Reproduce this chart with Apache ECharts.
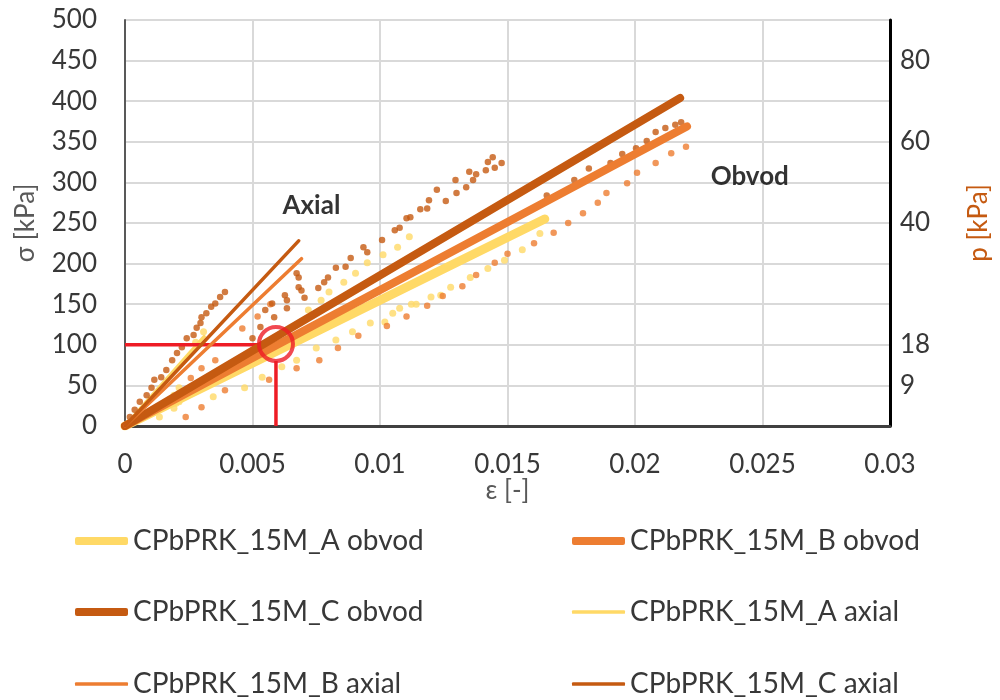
<!DOCTYPE html>
<html>
<head>
<meta charset="utf-8">
<script src="https://cdn.jsdelivr.net/npm/echarts@6/dist/echarts.min.js"></script>
<style>
  html, body { margin: 0; padding: 0; background: #ffffff; }
  #chart { width: 1000px; height: 700px; }
</style>
</head>
<body>
<div id="chart"></div>
<script>
// Stress–strain records of specimens CPbPRK_15M (A, B, C): circumferential (obvod) and axial strain.
const FONT = 'Lato, "Open Sans", sans-serif';

const COLOR_A = '#FFD966';
const COLOR_B = '#ED7D31';
const COLOR_C = '#C55A11';

// Linear fits [ε, σ]
const fitA_obvod = [[0, 0], [0.01646, 255]];
const fitB_obvod = [[0, 0], [0.02204, 369]];
const fitC_obvod = [[0, 0], [0.02177, 404]];
const fitA_axial = [[0, 0], [0.0031, 110]];
const fitB_axial = [[0, 0], [0.00692, 206]];
const fitC_axial = [[0, 0], [0.00681, 228]];

// Measured points [ε, σ]
const measuredA = [
  [0.00135, 11], [0.00192, 22], [0.002, 28], [0.00212, 30], [0.00346, 36], [0.00469, 47], [0.00538, 60],
  [0.00615, 73], [0.00673, 81], [0.0075, 96], [0.00827, 106], [0.00892, 116], [0.00962, 127],
  [0.01019, 128], [0.0105, 139], [0.01077, 145], [0.01123, 150], [0.01142, 150], [0.012, 159],
  [0.01238, 161], [0.01277, 171], [0.01354, 183], [0.01423, 194], [0.01488, 204], [0.01558, 217],
  [0.01627, 237],
  [0.00719, 143], [0.00769, 155], [0.008, 165], [0.00858, 177], [0.00904, 188], [0.0095, 201],
  [0.01012, 211], [0.01069, 220], [0.01115, 233],
  [0.00192, 38], [0.00212, 47], [0.00277, 103], [0.00308, 116]
];

const measuredB = [
  [0.00238, 11], [0.003, 23], [0.00392, 44], [0.00565, 57], [0.00673, 71], [0.00762, 81], [0.00835, 96],
  [0.00915, 111], [0.01027, 123], [0.01104, 135], [0.01185, 148], [0.01246, 160], [0.01323, 172],
  [0.01377, 186], [0.0145, 201], [0.015, 212], [0.01604, 225], [0.01681, 238], [0.01738, 250],
  [0.01796, 262], [0.01854, 275], [0.01888, 287], [0.01969, 299], [0.02008, 312], [0.02081, 324],
  [0.02142, 336], [0.022, 344],
  [0.00258, 59], [0.003, 71], [0.00354, 81], [0.0046, 120], [0.0052, 135], [0.0057, 150]
];

const measuredC = [
  [0.00019, 11], [0.00038, 20], [0.00058, 30], [0.00085, 38], [0.00104, 47], [0.00115, 57], [0.00142, 60],
  [0.00162, 69], [0.00185, 81], [0.00204, 90], [0.00223, 97], [0.00242, 108], [0.00269, 112],
  [0.00281, 121], [0.00296, 127], [0.003, 134], [0.00319, 139], [0.00338, 147], [0.00354, 151],
  [0.00373, 159], [0.00392, 165],
  [0.005, 108], [0.00531, 122], [0.0055, 143], [0.00577, 151], [0.00585, 134], [0.00627, 161],
  [0.00635, 155], [0.00635, 145], [0.00673, 188], [0.00681, 183], [0.00681, 171], [0.00692, 167],
  [0.00704, 158],
  [0.00758, 170], [0.00781, 177], [0.00796, 183], [0.00827, 195], [0.00865, 196], [0.00885, 207],
  [0.00935, 220], [0.0095, 214], [0.01008, 229], [0.01058, 241], [0.01077, 244], [0.01104, 256],
  [0.01119, 257], [0.01158, 267], [0.01185, 268], [0.01192, 278], [0.01223, 291], [0.01258, 277],
  [0.01296, 303], [0.013, 287], [0.01338, 294], [0.0135, 313], [0.01365, 303], [0.01377, 310],
  [0.01415, 315], [0.01423, 325], [0.0145, 318], [0.01442, 331], [0.01477, 324],
  [0.01654, 284], [0.01762, 303], [0.01819, 317], [0.01904, 324], [0.0195, 335], [0.02004, 342],
  [0.02046, 351], [0.02081, 362], [0.02119, 367], [0.02158, 371], [0.02181, 374]
];

// Secondary axis: p values printed at given σ levels
const pTickAt = [50, 100, 250, 350, 450];
const pTickLabels = ['9', '18', '40', '60', '80'];

// Highlighted reading at σ = 100 kPa
const markPoint = [0.00592, 101];
const markHLine = [[0, 100], [0.00527, 100]];
const markVLine = [[0.00592, 0], [0.00592, 80]];

// Region labels
const regionLabels = [
  { name: 'Axial', value: [0.00731, 272] },
  { name: 'Obvod', value: [0.0245, 307] }
];

// Legend layout: two columns, three rows
const legendColumns = [
  ['CPbPRK_15M_A obvod', 'CPbPRK_15M_C obvod', 'CPbPRK_15M_B axial'],
  ['CPbPRK_15M_B obvod', 'CPbPRK_15M_A axial', 'CPbPRK_15M_C axial']
];
const legendColumnLeft = [70, 567];
const legendRowCenter = [536, 607, 679];

const widthOf = { obvod: 8, axial: 3.5 };
const TEXT = '#383838';

function fitLine(name, data, color, width, z) {
  return {
    name, type: 'line', data, showSymbol: false, symbol: 'none', z,
    lineStyle: { color, width, cap: 'round' }, itemStyle: { color },
    emphasis: { disabled: true }, animation: false
  };
}
function dots(data, color, size) {
  return {
    type: 'scatter', data, symbol: 'circle', symbolSize: size, z: 2,
    itemStyle: { color }, silent: true, animation: false
  };
}

const LEGEND_FONT = 28;
const legends = [];
legendColumns.forEach((col, ci) => {
  col.forEach((name, ri) => {
    const h = name.endsWith('obvod') ? widthOf.obvod : widthOf.axial;
    legends.push({
      left: legendColumnLeft[ci], top: legendRowCenter[ri] - LEGEND_FONT / 2,
      itemWidth: 53, itemHeight: h, itemTextGap: 5, icon: 'roundRect',
      selectedMode: false,
      textStyle: { fontFamily: FONT, fontSize: LEGEND_FONT, color: TEXT, lineHeight: LEGEND_FONT },
      data: [name]
    });
  });
});

const RED = '#EE1C25';

const option = {
  backgroundColor: '#ffffff',
  animation: false,
  grid: { left: 125, right: 97, top: 20, bottom: 274 },
  xAxis: {
    type: 'value', min: 0, max: 0.03, interval: 0.005,
    name: 'ε [-]', nameLocation: 'middle', nameGap: 52, nameMoveOverlap: false,
    nameTextStyle: { fontFamily: FONT, fontSize: 26, color: '#595959' },
    axisLine: { show: true, lineStyle: { color: '#404040', width: 3 } },
    axisTick: { show: false },
    axisLabel: { fontFamily: FONT, fontSize: 26, color: TEXT, margin: 26 },
    splitLine: { show: true, lineStyle: { color: '#d9d9d9', width: 2 } }
  },
  yAxis: [
    {
      type: 'value', min: 0, max: 500, interval: 50,
      name: 'σ [kPa]', nameLocation: 'middle', nameGap: 86, nameRotate: 90, nameMoveOverlap: false,
      nameTextStyle: { fontFamily: FONT, fontSize: 26, color: '#595959' },
      axisLine: { show: true, lineStyle: { color: '#595959', width: 2 } },
      axisTick: { show: false },
      axisLabel: { fontFamily: FONT, fontSize: 26, color: TEXT, margin: 28 },
      splitLine: { show: true, lineStyle: { color: '#d9d9d9', width: 2 } }
    },
    {
      type: 'value', min: 0, max: 500, interval: 50, position: 'right',
      name: 'p [kPa]', nameLocation: 'middle', nameGap: 76, nameRotate: 90, nameMoveOverlap: false,
      nameTextStyle: { fontFamily: FONT, fontSize: 26, color: COLOR_C },
      axisLine: { show: true, onZero: false, lineStyle: { color: '#000000', width: 3 } },
      axisTick: { show: false },
      axisLabel: {
        fontFamily: FONT, fontSize: 26, color: TEXT, margin: 10,
        formatter: v => { const i = pTickAt.indexOf(Math.round(v)); return i >= 0 ? pTickLabels[i] : ''; }
      },
      splitLine: { show: false }
    }
  ],
  legend: legends,
  series: [
    fitLine('CPbPRK_15M_A axial', fitA_axial, COLOR_A, widthOf.axial, 1),
    dots(measuredA, COLOR_A, 7),
    dots(measuredB, COLOR_B, 6.5),
    dots(measuredC, COLOR_C, 6.5),
    {
      type: 'line', data: markHLine, showSymbol: false, symbol: 'none', z: 3, silent: true,
      lineStyle: { color: RED, width: 3.5 }
    },
    {
      type: 'line', data: markVLine, showSymbol: false, symbol: 'none', z: 3, silent: true,
      lineStyle: { color: RED, width: 3.5 }
    },
    fitLine('CPbPRK_15M_A obvod', fitA_obvod, COLOR_A, widthOf.obvod + 1, 4),
    fitLine('CPbPRK_15M_B obvod', fitB_obvod, COLOR_B, widthOf.obvod, 4),
    fitLine('CPbPRK_15M_C obvod', fitC_obvod, COLOR_C, widthOf.obvod, 4),
    fitLine('CPbPRK_15M_B axial', fitB_axial, COLOR_B, widthOf.axial, 5),
    fitLine('CPbPRK_15M_C axial', fitC_axial, COLOR_C, widthOf.axial, 5),
    {
      type: 'scatter', data: [markPoint], symbol: 'circle', symbolSize: 34, z: 6, silent: true,
      itemStyle: { color: 'rgba(0,0,0,0)', borderColor: RED, borderWidth: 4 }
    },
    {
      type: 'scatter', data: regionLabels, symbolSize: 0, z: 7, silent: true,
      label: {
        show: true, position: 'inside', formatter: '{b}',
        fontFamily: FONT, fontSize: 26, fontWeight: 'bold', color: '#000000'
      }
    }
  ]
};

const chart = echarts.init(document.getElementById('chart'), null, { renderer: 'canvas' });
chart.setOption(option);
</script>
</body>
</html>
